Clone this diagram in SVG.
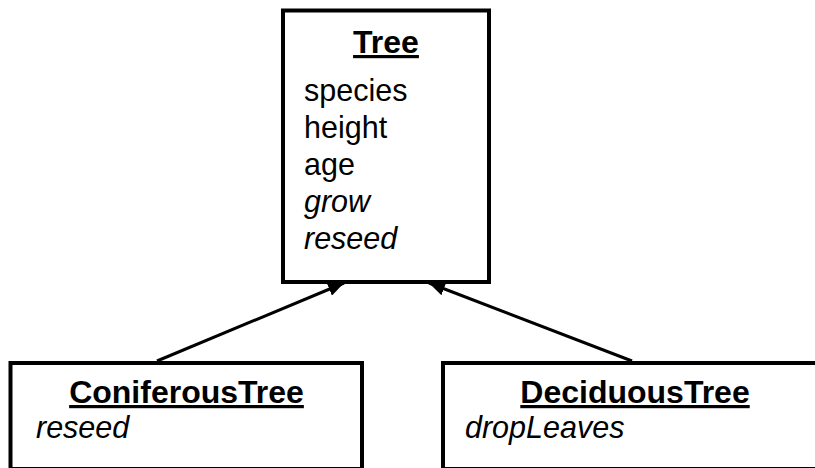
<svg xmlns="http://www.w3.org/2000/svg" width="815" height="468" viewBox="0 0 815 468">
<defs>
<style>
.box{fill:#fff;stroke:#000;stroke-width:4}
.title{font-family:"Liberation Sans",Arial,sans-serif;font-size:32px;font-weight:bold;text-anchor:middle;text-decoration:underline;fill:#000}
.attr{font-family:"Liberation Sans",Arial,sans-serif;font-size:30.5px;fill:#000}
.op{font-style:italic}
.conn{stroke:#000;stroke-width:3;fill:none;marker-end:url(#arrow)}
</style>
<marker id="arrow" markerUnits="userSpaceOnUse" markerWidth="18" markerHeight="14" refX="16" refY="7" orient="auto">
<path d="M0,0 L16,7 L0,14 Z" fill="#000"/>
</marker>
</defs>
<rect width="815" height="468" fill="#fff"/>
<g id="connectors">
<line class="conn" x1="157" y1="361" x2="344" y2="283"/>
<line class="conn" x1="632" y1="361" x2="429" y2="283"/>
</g>
<g id="tree">
<rect class="box" x="283" y="10.5" width="206" height="271.5"/>
<text class="title" x="386" y="53">Tree</text>
<text class="attr" x="304" y="101">species</text>
<text class="attr" x="304" y="138">height</text>
<text class="attr" x="304" y="175">age</text>
<text class="attr op" x="304" y="212">grow</text>
<text class="attr op" x="304" y="249">reseed</text>
</g>
<g id="coniferous">
<rect class="box" x="10.5" y="363" width="351.5" height="106"/>
<text class="title" x="186.5" y="403">ConiferousTree</text>
<text class="attr op" x="36" y="438">reseed</text>
</g>
<g id="deciduous">
<rect class="box" x="443" y="363" width="384" height="106"/>
<text class="title" x="635" y="403">DeciduousTree</text>
<text class="attr op" x="465" y="438">dropLeaves</text>
</g>
</svg>
